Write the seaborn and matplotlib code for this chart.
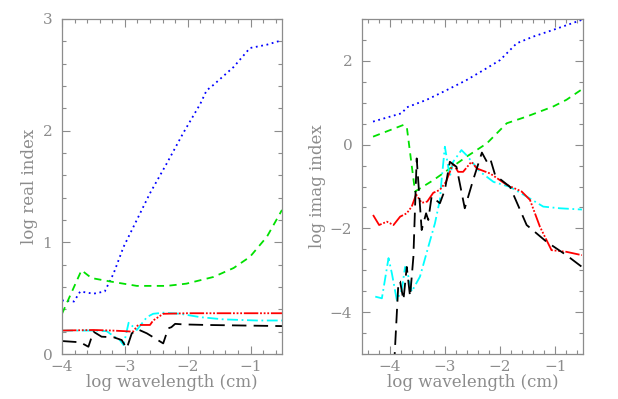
import numpy as np
import pandas as pd
import matplotlib
matplotlib.use("Agg")
import matplotlib.pyplot as plt
from matplotlib.ticker import MultipleLocator
import seaborn as sns

# ---- left panel: log real index ----
re_blue_x = [-4.0, -3.81, -3.71, -3.5, -3.32, -3.18, -3.02, -2.81, -2.6, -2.33, -2.07, -1.8, -1.7, -1.59, -1.27, -1.01, -0.74, -0.5]
re_blue_y = [0.48, 0.47, 0.56, 0.54, 0.56, 0.72, 0.96, 1.2, 1.44, 1.71, 1.98, 2.24, 2.36, 2.41, 2.57, 2.74, 2.77, 2.81]

re_green_x = [-4.0, -3.69, -3.53, -3.24, -2.81, -2.33, -2.02, -1.59, -1.27, -1.01, -0.74, -0.5]
re_green_y = [0.36, 0.75, 0.68, 0.65, 0.61, 0.61, 0.63, 0.69, 0.77, 0.87, 1.05, 1.29]

re_red_x = [-4.0, -3.5, -3.2, -3.02, -2.87, -2.79, -2.6, -2.55, -2.39, -2.0, -0.5]
re_red_y = [0.21, 0.215, 0.21, 0.205, 0.2, 0.26, 0.26, 0.3, 0.36, 0.365, 0.365]

re_cyan_x = [-4.0, -3.5, -3.29, -3.18, -3.08, -3.02, -2.94, -2.81, -2.65, -2.55, -2.39, -2.12, -1.8, -1.43, -0.9, -0.5]
re_cyan_y = [0.21, 0.21, 0.205, 0.16, 0.125, 0.08, 0.28, 0.215, 0.33, 0.36, 0.37, 0.36, 0.33, 0.31, 0.3, 0.3]

re_black_x = [-4.0, -3.71, -3.58, -3.5, -3.37, -3.18, -3.05, -2.97, -2.89, -2.79, -2.65, -2.39, -2.31, -2.26, -2.2, -2.07, -1.7, -0.5]
re_black_y = [0.116, 0.105, 0.065, 0.2, 0.155, 0.15, 0.125, 0.05, 0.185, 0.22, 0.185, 0.095, 0.23, 0.24, 0.27, 0.265, 0.26, 0.25]

# ---- right panel: log imag index ----
im_blue_x = [-4.3, -3.78, -3.69, -3.33, -2.97, -2.61, -2.3, -2.0, -1.7, -1.4, -1.04, -0.52]
im_blue_y = [0.55, 0.75, 0.89, 1.07, 1.3, 1.54, 1.78, 2.02, 2.42, 2.58, 2.74, 2.98]

im_green_x = [-4.3, -3.75, -3.69, -3.54, -3.21, -2.91, -2.61, -2.24, -1.88, -1.52, -1.04, -0.8, -0.52]
im_green_y = [0.19, 0.47, 0.43, -1.12, -0.85, -0.57, -0.29, 0.03, 0.51, 0.67, 0.91, 1.07, 1.32]

im_red_x = [-4.3, -4.19, -4.05, -3.93, -3.81, -3.69, -3.6, -3.52, -3.42, -3.32, -3.21, -3.09, -2.98, -2.85, -2.76, -2.67,
            -2.52, -2.42, -2.18, -1.88, -1.61, -1.46, -1.28, -1.07, -0.8, -0.52]
im_red_y = [-1.68, -1.92, -1.84, -1.92, -1.72, -1.64, -1.48, -1.19, -1.39, -1.36, -1.15, -1.08, -0.89, -0.45, -0.65, -0.65,
            -0.41, -0.57, -0.69, -0.96, -1.12, -1.32, -1.96, -2.52, -2.56, -2.64]

im_cyan_x = [-4.26, -4.14, -4.02, -3.96, -3.87, -3.78, -3.72, -3.66, -3.6, -3.45, -3.3, -3.18, -3.09, -3.06, -3.0, -2.91,
             -2.85, -2.7, -2.61, -2.36, -2.12, -1.82, -1.52, -1.22, -0.92, -0.52]
im_cyan_y = [-3.63, -3.67, -2.71, -3.07, -3.71, -3.47, -2.92, -3.15, -3.51, -3.15, -2.44, -1.88, -1.32, -0.85, -0.05, -0.77,
             -0.41, -0.13, -0.25, -0.65, -0.89, -1.01, -1.24, -1.48, -1.52, -1.55]

im_black_x = [-3.92, -3.84, -3.81, -3.75, -3.69, -3.63, -3.57, -3.51, -3.42, -3.34, -3.3, -3.24, -3.09, -3.0, -2.91, -2.79,
              -2.64, -2.49, -2.33, -2.24, -2.18, -2.09, -1.82, -1.52, -1.16, -0.8, -0.52]
im_black_y = [-5.3, -3.27, -3.27, -3.71, -2.92, -3.63, -2.68, -0.33, -2.04, -1.64, -1.8, -1.24, -1.4, -1.08, -0.41, -0.53,
              -1.52, -0.85, -0.19, -0.41, -0.33, -0.73, -1.01, -1.92, -2.32, -2.64, -2.92]

styles = {
    "blue": dict(color="#0000ff", linestyle=(0, (1, 2))),
    "green": dict(color="#00e000", linestyle=(0, (4, 3))),
    "red": dict(color="#ff0000", linestyle=(0, (8, 1, 1, 1, 1, 1, 1, 1))),
    "cyan": dict(color="#00ffff", linestyle=(0, (6, 2, 1, 2))),
    "black": dict(color="#000000", linestyle=(0, (8, 4))),
}

sns.set_style("ticks")
plt.rcParams["font.family"] = ["DejaVu Serif"]
grey = "#8c8c8c"

fig = plt.figure(figsize=(6.18, 3.99), dpi=100)
ax1 = fig.add_axes([62 / 618, 45 / 399, 220 / 618, 335 / 399])
ax2 = fig.add_axes([362 / 618, 45 / 399, 221 / 618, 335 / 399])

left = [("blue", re_blue_x, re_blue_y), ("green", re_green_x, re_green_y), ("cyan", re_cyan_x, re_cyan_y),
        ("red", re_red_x, re_red_y), ("black", re_black_x, re_black_y)]
right = [("blue", im_blue_x, im_blue_y), ("green", im_green_x, im_green_y), ("cyan", im_cyan_x, im_cyan_y),
         ("red", im_red_x, im_red_y), ("black", im_black_x, im_black_y)]

for ax, series in [(ax1, left), (ax2, right)]:
    for name, xs, ys in series:
        df = pd.DataFrame({"x": xs, "y": ys})
        sns.lineplot(data=df, x="x", y="y", ax=ax, sort=False, estimator=None,
                     linewidth=1.3, **styles[name])

ax1.set_xlim(-4, -0.5)
ax1.set_ylim(0, 3)
ax1.xaxis.set_major_locator(MultipleLocator(1))
ax1.xaxis.set_minor_locator(MultipleLocator(0.2))
ax1.yaxis.set_major_locator(MultipleLocator(1))
ax1.yaxis.set_minor_locator(MultipleLocator(0.2))
ax1.set_ylabel("log real index")

ax2.set_xlim(-4.5, -0.5)
ax2.set_ylim(-5, 3)
ax2.xaxis.set_major_locator(MultipleLocator(1))
ax2.xaxis.set_minor_locator(MultipleLocator(0.2))
ax2.yaxis.set_major_locator(MultipleLocator(2))
ax2.yaxis.set_minor_locator(MultipleLocator(0.5))
ax2.set_ylabel("log imag index")

for ax in (ax1, ax2):
    ax.set_xlabel("log wavelength (cm)")
    ax.xaxis.label.set_color(grey)
    ax.yaxis.label.set_color(grey)
    ax.xaxis.label.set_fontsize(12)
    ax.yaxis.label.set_fontsize(12)
    ax.xaxis.labelpad = 0
    ax.yaxis.labelpad = 3
    for s in ax.spines.values():
        s.set_visible(True)
        s.set_color(grey)
        s.set_linewidth(0.9)
    ax.tick_params(which="both", direction="in", top=True, right=True, colors=grey,
                   labelcolor=grey, labelsize=11, width=0.8)
    ax.tick_params(which="major", length=6)
    ax.tick_params(which="minor", length=3)
    ax.tick_params(axis="y", which="major", pad=7)
    ax.tick_params(axis="x", which="major", pad=4)

fig.savefig("out.png", dpi=100)
